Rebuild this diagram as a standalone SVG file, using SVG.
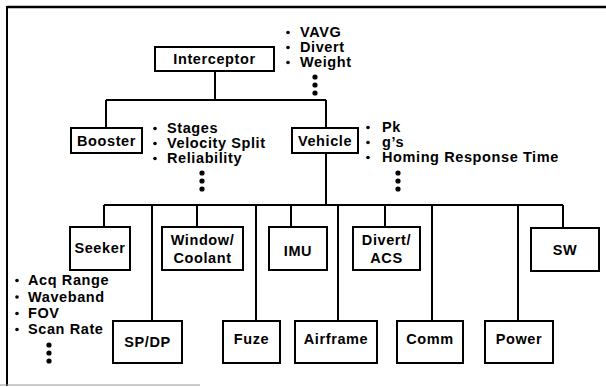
<svg xmlns="http://www.w3.org/2000/svg" width="606" height="387" viewBox="0 0 606 387">
<style>
  .box { fill: #fff; stroke: #000; stroke-width: 2; }
  .ln { fill: none; stroke: #000; stroke-width: 2; }
  text { font-family: "Liberation Sans", Arial, sans-serif; font-weight: bold; font-size: 14.5px; letter-spacing: 0.6px; fill: #000; }
  .c { text-anchor: middle; }
  .dot { fill: #000; }
</style>
<defs>
  <g id="vdots">
    <circle cx="0" cy="0" r="2.6" class="dot"/>
    <circle cx="0" cy="8" r="2.6" class="dot"/>
    <circle cx="0" cy="16" r="2.6" class="dot"/>
  </g>
</defs>
<rect width="606" height="387" fill="#fff"/>
<g id="frame">
  <line x1="7" y1="7" x2="606" y2="7" stroke="#000" stroke-width="2.5"/>
  <line x1="7" y1="6" x2="7" y2="386" stroke="#000" stroke-width="2"/>
  <line x1="0" y1="385" x2="200" y2="385" stroke="#999" stroke-width="1"/>
</g>
<g id="connectors">
  <path class="ln" d="M215 71 V100 M106 100 H326 M106 100 V128 M326 100 V128"/>
  <path class="ln" d="M326 153 V205 M104 205 H563"/>
  <path class="ln" d="M104 205 V227 M152 205 V321 M197 205 V227 M256 205 V321 M291 205 V227 M338 205 V321 M385 205 V227 M432 205 V321 M518 205 V321 M563 205 V228"/>
</g>
<g id="interceptor">
  <rect class="box" x="155" y="47" width="119" height="24"/>
  <text class="c" x="214.5" y="64">Interceptor</text>
</g>
<g id="interceptor-attrs">
  <circle cx="288" cy="32.5" r="1.8" class="dot"/><text x="300" y="37">VAVG</text>
  <circle cx="288" cy="47.5" r="1.8" class="dot"/><text x="300" y="52">Divert</text>
  <circle cx="288" cy="62.5" r="1.8" class="dot"/><text x="300" y="67">Weight</text>
  <use href="#vdots" x="315" y="77"/>
</g>
<g id="booster">
  <rect class="box" x="71" y="128" width="71" height="25"/>
  <text class="c" x="106.5" y="146">Booster</text>
</g>
<g id="booster-attrs">
  <circle cx="155" cy="128.5" r="1.8" class="dot"/><text x="167" y="133">Stages</text>
  <circle cx="155" cy="143.5" r="1.8" class="dot"/><text x="167" y="148">Velocity Split</text>
  <circle cx="155" cy="158.5" r="1.8" class="dot"/><text x="167" y="163">Reliability</text>
  <use href="#vdots" x="202" y="173"/>
</g>
<g id="vehicle">
  <rect class="box" x="292" y="128" width="66" height="25"/>
  <text class="c" x="325" y="146">Vehicle</text>
</g>
<g id="vehicle-attrs">
  <circle cx="368" cy="127.5" r="1.8" class="dot"/><text x="382" y="132">Pk</text>
  <circle cx="368" cy="142.5" r="1.8" class="dot"/><text x="382" y="147">g’s</text>
  <circle cx="368" cy="157.5" r="1.8" class="dot"/><text x="382" y="162">Homing Response Time</text>
  <use href="#vdots" x="398" y="173"/>
</g>
<g id="seeker">
  <rect class="box" x="70" y="227" width="60" height="43"/>
  <text class="c" x="100" y="253">Seeker</text>
</g>
<g id="seeker-attrs">
  <circle cx="17" cy="280.5" r="1.8" class="dot"/><text x="28" y="285">Acq Range</text>
  <circle cx="17" cy="297" r="1.8" class="dot"/><text x="28" y="301.5">Waveband</text>
  <circle cx="17" cy="313.5" r="1.8" class="dot"/><text x="28" y="318">FOV</text>
  <circle cx="17" cy="329.5" r="1.8" class="dot"/><text x="28" y="334">Scan Rate</text>
  <use href="#vdots" x="49" y="345"/>
</g>
<g id="window">
  <rect class="box" x="162" y="227" width="81" height="43"/>
  <text class="c" x="202.5" y="245">Window/</text>
  <text class="c" x="202.5" y="263">Coolant</text>
</g>
<g id="imu">
  <rect class="box" x="269" y="227" width="58" height="43"/>
  <text class="c" x="298" y="256">IMU</text>
</g>
<g id="divert">
  <rect class="box" x="353" y="227" width="67" height="43"/>
  <text class="c" x="386.5" y="245">Divert/</text>
  <text class="c" x="386.5" y="263">ACS</text>
</g>
<g id="sw">
  <rect class="box" x="531" y="228" width="68" height="43"/>
  <text class="c" x="565" y="255">SW</text>
</g>
<g id="spdp">
  <rect class="box" x="113" y="321" width="69" height="42"/>
  <text class="c" x="147.5" y="347">SP/DP</text>
</g>
<g id="fuze">
  <rect class="box" x="223" y="321" width="57" height="42"/>
  <text class="c" x="251.5" y="344">Fuze</text>
</g>
<g id="airframe">
  <rect class="box" x="295" y="321" width="82" height="42"/>
  <text class="c" x="336" y="344">Airframe</text>
</g>
<g id="comm">
  <rect class="box" x="397" y="321" width="66" height="42"/>
  <text class="c" x="430" y="344">Comm</text>
</g>
<g id="power">
  <rect class="box" x="485" y="321" width="68" height="42"/>
  <text class="c" x="519" y="344">Power</text>
</g>
</svg>
